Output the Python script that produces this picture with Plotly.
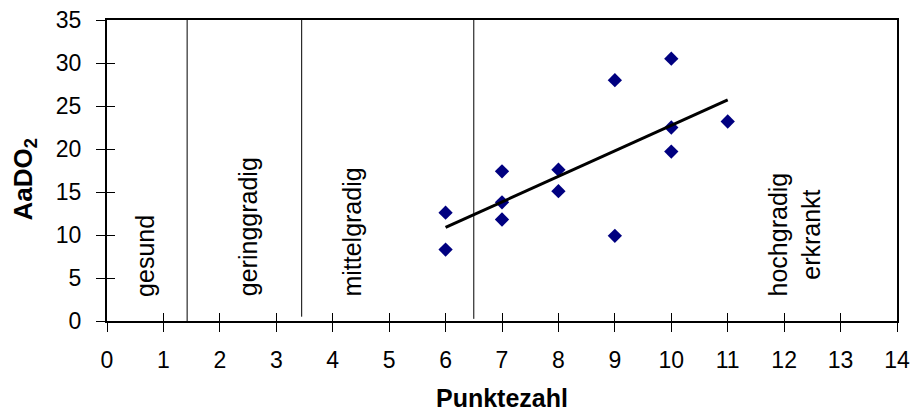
import numpy as np
import plotly.graph_objects as go

# Punktezahl (score) and AaDO2 measurements
punkte = [6, 6, 7, 7, 7, 8, 8, 9, 9, 10, 10, 10, 11]
aado2 = [12.6, 8.3, 17.4, 13.8, 11.8, 17.6, 15.1, 28.0, 9.9, 30.5, 22.5, 19.7, 23.2]

# Boundaries between severity classes (x position, lower end, upper end)
grenzen = [(1.42, 0.0, 35.0), (3.45, 0.5, 35.0), (6.5, 0.25, 35.0)]

# Severity class labels and their positions
klassen = ["gesund", "geringgradig", "mittelgradig"]
klassen_x = [0.66, 2.5, 4.35]
klassen_y = 2.6
hoch_text = "hochgradig<br>erkrankt"
hoch_x, hoch_y = 12.18, 10.1

x_ticks = list(range(0, 15))
y_ticks = list(range(0, 40, 5))

FONT = "Arial, Liberation Sans, sans-serif"

# Linear least-squares trend line
steigung, achse = np.polyfit(punkte, aado2, 1)
trend_x = np.array([min(punkte), max(punkte)])
trend_y = steigung * trend_x + achse

fig = go.Figure()

fig.add_trace(go.Scatter(
    x=punkte, y=aado2, mode="markers",
    marker=dict(symbol="diamond", size=11, color="#000080", line=dict(width=0)),
    showlegend=False,
))
fig.add_trace(go.Scatter(
    x=trend_x, y=trend_y, mode="lines",
    line=dict(color="black", width=3),
    showlegend=False,
))
# invisible trace to activate the overlay axes that carry the inner tick halves
fig.add_trace(go.Scatter(x=[None], y=[None], xaxis="x2", yaxis="y2",
                         showlegend=False, hoverinfo="skip"))

for gx, y0, y1 in grenzen:
    fig.add_shape(type="line", xref="x", yref="y", x0=gx, x1=gx, y0=y0, y1=y1,
                  line=dict(color="black", width=1))

for name, kx in zip(klassen, klassen_x):
    fig.add_annotation(x=kx, y=klassen_y, xref="x", yref="y", text=name,
                       textangle=-90, showarrow=False, xanchor="center",
                       yanchor="bottom", font=dict(family=FONT, size=25, color="black"))
fig.add_annotation(x=hoch_x, y=hoch_y, xref="x", yref="y", text=hoch_text,
                   textangle=-90, showarrow=False, xanchor="center", yanchor="middle",
                   align="center", font=dict(family=FONT, size=25, color="black"))

# axis titles
fig.add_annotation(x=0.5, y=-0.255, xref="paper", yref="paper", text="<b>Punktezahl</b>",
                   showarrow=False, xanchor="center", yanchor="middle",
                   font=dict(family=FONT, size=25, color="black"))
fig.add_annotation(x=-0.105, y=0.47, xref="paper", yref="paper",
                   text="<b>AaDO<sub>2</sub></b>", textangle=-90,
                   showarrow=False, xanchor="center", yanchor="middle",
                   font=dict(family=FONT, size=26, color="black"))

axis_common = dict(showgrid=False, zeroline=False, linecolor="black", linewidth=2,
                   tickcolor="black", tickwidth=1, automargin=False)

fig.update_layout(
    width=915, height=412,
    margin=dict(l=107, r=18, t=20, b=91, autoexpand=False),
    paper_bgcolor="white", plot_bgcolor="white",
    font=dict(family=FONT, size=23, color="black"),
    xaxis=dict(range=[0, 14], tickvals=x_ticks, ticks="outside", ticklen=9,
               showline=True, mirror=True, ticklabelstandoff=8, **axis_common),
    yaxis=dict(range=[0, 35], tickvals=y_ticks, ticks="outside", ticklen=9,
               showline=True, mirror=True, ticklabelstandoff=10, **axis_common),
    xaxis2=dict(range=[0, 14], tickvals=x_ticks, ticks="inside", ticklen=8,
                overlaying="x", anchor="y2", side="bottom", showticklabels=False,
                showline=False, showgrid=False, zeroline=False, tickcolor="black", tickwidth=1),
    yaxis2=dict(range=[0, 35], tickvals=y_ticks, ticks="inside", ticklen=8,
                overlaying="y", anchor="x2", side="left", showticklabels=False,
                showline=False, showgrid=False, zeroline=False, tickcolor="black", tickwidth=1),
)

fig.write_html("out.html")
